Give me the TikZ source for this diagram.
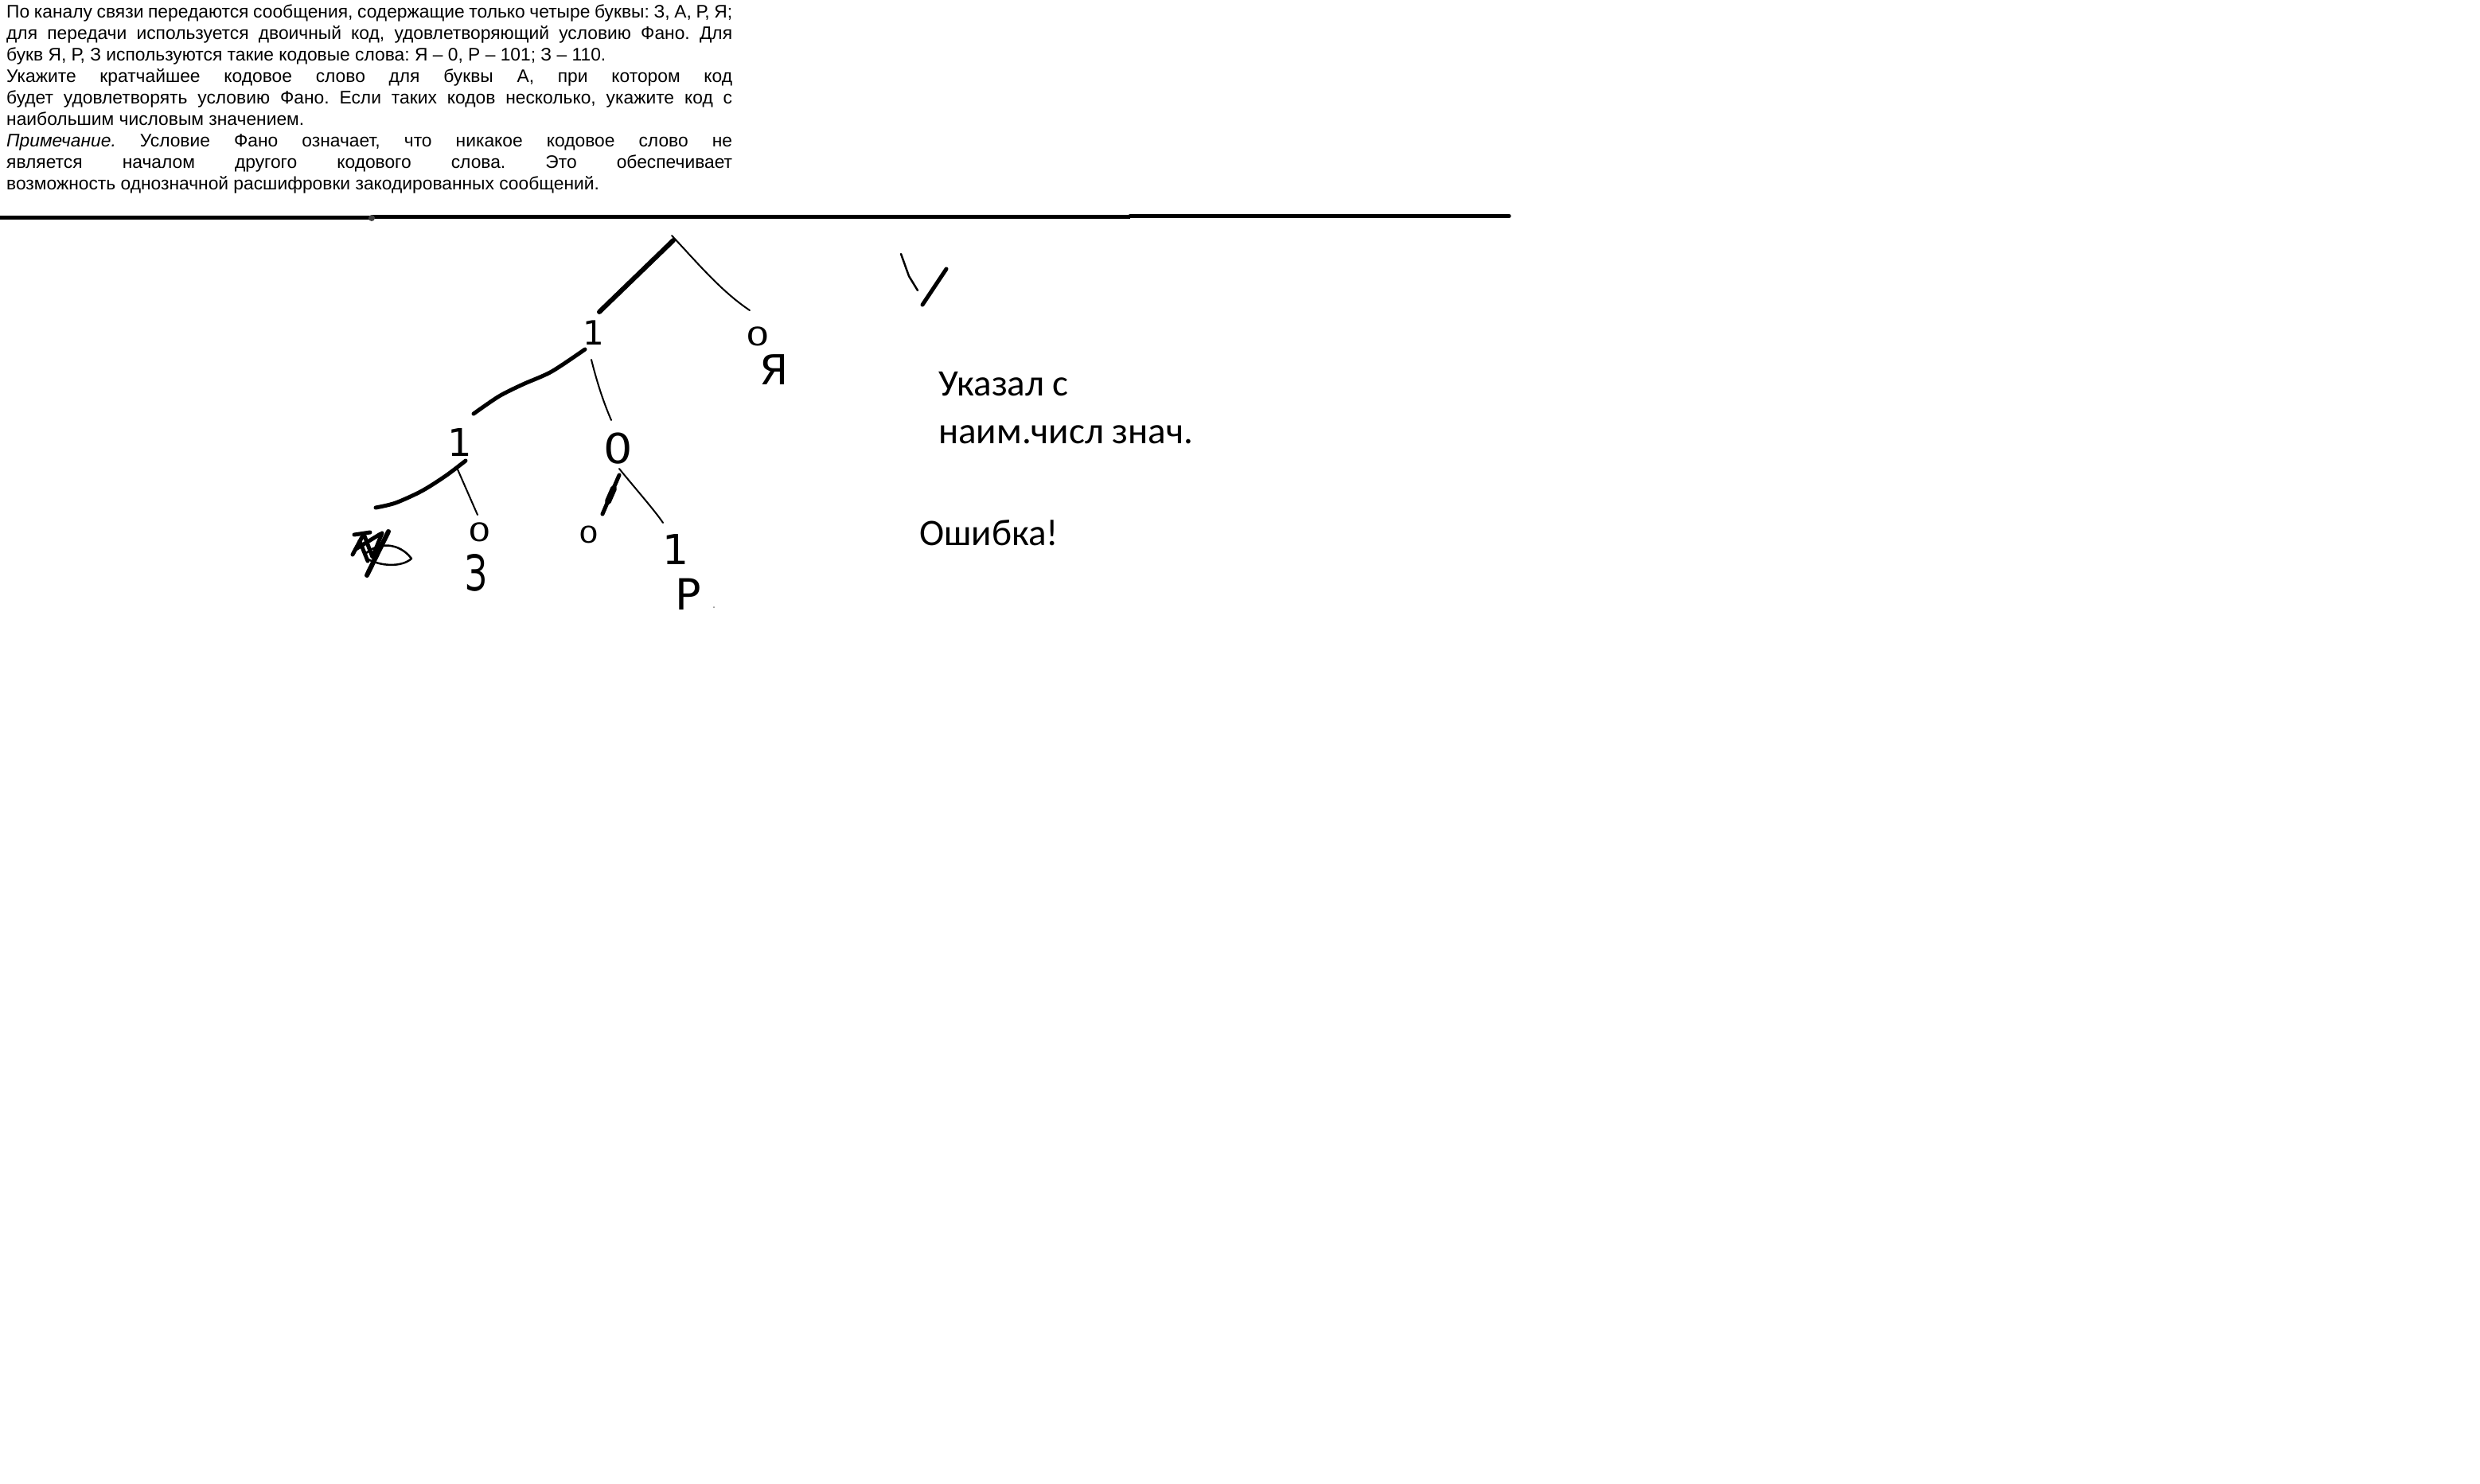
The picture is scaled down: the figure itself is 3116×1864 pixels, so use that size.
\documentclass[tikz,border=0pt]{standalone}
\usepackage{graphicx}
\usepackage{fontspec}
\setmainfont{Liberation Sans}
\newfontfamily\carl{Carlito}
\newfontfamily\hand{DejaVu Sans}
\newcommand\jline[1]{\leavevmode\hbox to 912pt{#1}}
\newcommand\wideglyph[2]{\scalebox{#1}[1]{#2}}
\begin{document}
\begin{tikzpicture}[x=1pt,y=-1pt,
  thickstroke/.style={line width=5pt, line cap=round, line join=round},
  thinstroke/.style={line width=2pt, line cap=round, line join=round},
  handlabel/.style={inner sep=0pt, font=\hand\fontsize{#1}{#1}\selectfont},
  notetext/.style={anchor=base west, inner sep=0pt, font=\carl\fontsize{47}{60}\selectfont},
  rule/.style={line width=5pt},
]
\useasboundingbox[fill=white] (0,0) rectangle (3116,1864);

% task text
\node[anchor=north west, inner sep=0pt, text width=912pt,
      font={\fontsize{22.8}{27}\selectfont}] (task) at (8,6) {%
\parindent=0pt\frenchspacing\spaceskip=0.278em plus 1em minus 0.12em\relax
\jline{По каналу связи передаются сообщения, содержащие только четыре буквы: З, А, Р, Я;}\\
\jline{для передачи используется двоичный код, удовлетворяющий условию Фано. Для}\\
букв Я, Р, З используются такие кодовые слова: Я – 0, Р – 101; З – 110.\\
\jline{Укажите кратчайшее кодовое слово для буквы А, при котором код}\\
\jline{будет удовлетворять условию Фано. Если таких кодов несколько, укажите код с}\\
наибольшим числовым значением.\\
\jline{\textit{Примечание.} Условие Фано означает, что никакое кодовое слово не}\\
\jline{является началом другого кодового слова. Это обеспечивает}\\
возможность однозначной расшифровки закодированных сообщений.};

% horizontal rule
\coordinate (h0) at (0,273.5);
\coordinate (h1) at (467,273.5);
\coordinate (h2) at (467,272.5);
\coordinate (h3) at (1420,272.5);
\coordinate (h4) at (1420,271.5);
\coordinate (h5) at (1896,271.5);
\draw[rule] (h0) -- (h1);
\draw[rule] (h2) -- (h3);
\draw[rule, line cap=round] (h4) -- (h5);
\fill[black!75] (467,274) ellipse (4pt and 4pt);

% tree joints
\coordinate (root) at (846,302);
\coordinate (rootT) at (844,296);
\coordinate (c1) at (753,392);
\coordinate (c2) at (942,390);
\coordinate (d1) at (735,439);
\coordinate (d2) at (595,520);
\coordinate (e1) at (743,452);
\coordinate (e2) at (768,528);
\coordinate (f1) at (585,579);
\coordinate (f2) at (472,638);
\coordinate (g1) at (575,590);
\coordinate (g2) at (600,647);
\coordinate (k1) at (778,597);
\coordinate (k2) at (757,646);
\coordinate (m1) at (778,589);
\coordinate (m2) at (833,657);

% labels (handwritten)
\node[handlabel=42] (n1) at (746,418) {1};
\node[handlabel=32] (n0) at (952,423) {\wideglyph{1.45}{0}};
\node[handlabel=52] (nYa) at (973,465) {Я};
\node[handlabel=48] (n11) at (578,556) {1};
\node[handlabel=52] (n10) at (777,564) {\wideglyph{1.1}{0}};
\node[handlabel=32] (n110) at (603,669) {\wideglyph{1.4}{0}};
\node[handlabel=62] (nZ) at (598,720) {\wideglyph{0.7}{З}};
\node[handlabel=29] (n100) at (740,672) {\wideglyph{1.35}{0}};
\node[handlabel=52] (n101) at (849,691) {1};
\node[handlabel=54] (nR) at (865,747) {Р};

% branches
\draw[thickstroke, line width=6pt] (root) -- (c1);
\draw[thinstroke] (rootT) .. controls (876,330) and (906,366) .. (c2);
\draw[thickstroke] plot[smooth] coordinates {(d1) (693,467) (657,483) (627,498) (d2)};
\draw[thinstroke] (e1) .. controls (750,480) and (758,505) .. (e2);
\draw[thickstroke] plot[smooth] coordinates {(f1) (560,598) (530,617) (497,632) (f2)};
\draw[thinstroke] (g1) -- (g2);
\draw[thickstroke] (k1) -- (k2);
\draw[line width=8pt, line cap=round] (771,614) -- (764,630);
\draw[thinstroke] (m1) .. controls (800,616) and (823,642) .. (m2);

% crossed-out scribble
\draw[thinstroke, line width=2.5pt] (458,697) .. controls (475,680) and (502,682) .. (517,702)
                  .. controls (505,713) and (478,712) .. (461,702);
\draw[thickstroke] (445,672) -- (465,669);
\draw[thickstroke, line width=6pt] (488,668) -- (461,723);
\draw[thickstroke] (443,697) -- (457,671) -- (468,700) -- (480,670);
\draw[thickstroke] (447,690) -- (478,671);
\draw[thickstroke] (452,680) -- (462,705);

% tiny dot
\fill[gray] (897,763) circle (1pt);

% check mark
\coordinate (v1) at (1132,319);
\coordinate (v2) at (1153,365);
\coordinate (v3) at (1189,338);
\coordinate (v4) at (1159,383);
\draw[line width=2.5pt, line cap=round, line join=round] (v1) -- (1142,347) -- (v2);
\draw[thickstroke] (v3) -- (v4);

% notes
\node[notetext] (note1) at (1179,497) {Указал с};
\node[notetext] (note2) at (1179,557) {наим.числ знач.};
\node[notetext] (err) at (1155,685) {Ошибка!};
\end{tikzpicture}
\end{document}
